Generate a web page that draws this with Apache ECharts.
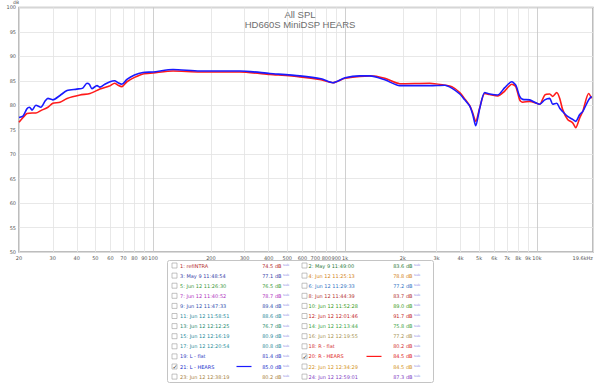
<!DOCTYPE html>
<html><head><meta charset="utf-8">
<script src="https://cdn.jsdelivr.net/npm/echarts@6/dist/echarts.min.js"></script>
<style>html,body{margin:0;padding:0;background:#fff}#c{width:600px;height:383px}</style>
</head><body><div id="c"></div>
<script>
const titleLines = ['All SPL', 'HD660S MiniDSP HEARS'];
const xTickValues = [20,30,40,50,60,70,80,90,100,200,300,400,500,600,700,800,900,1000,2000,3000,4000,5000,6000,7000,8000,9000,10000,19600];
const xTickLabels = ['20','30','40','50','60','70','80','90','100','200','300','400','500','600','700','800','900','1k','2k','3k','4k','5k','6k','7k','8k','9k','10k','19.6kHz'];
const yMin = 50, yMax = 100, yStep = 5;

const redFreq = [20,21,22,23.4,24.5,26,28.3,30,32.7,35.6,41.6,46.9,52.8,59.6,63,65.6,68.8,73,80,88.5,100,127,175,283,406,582,750,864,1000,1194,1346,1612,1930,2766,3310,3600,3963,4207,4468,4630,4800,5036,5347,5677,6250,6796,7394,7760,8132,8434,9170,9978,10350,10990,11660,12080,12680,13150,13620,14460,15360,15920,16710,17320,18600,19280];
const redDb   = [76.5,77.5,78.3,78.4,78.4,78.9,79.6,80.4,80.6,81.4,82.1,82.4,83.3,84.0,84.5,84.1,83.8,84.8,85.7,86.4,86.6,87.0,86.8,86.8,86.3,85.8,85.2,84.6,85.5,85.9,86.0,85.5,84.4,84.5,84.1,83.8,82.6,81.3,79.9,78.4,76.7,79.5,82.4,82.2,81.9,82.9,84.3,83.8,81.1,80.6,80.8,80.4,80.2,82.1,82.3,81.8,82.6,81.4,79.1,77.1,76.4,75.4,77.4,78.7,82.4,81.4];

const blueFreq = [20,21,22,22.7,23.4,24.5,26,27.3,28.3,30,32.7,35.6,40,43,45.2,46.5,48,51,52.8,56,59.6,63,65.6,68.8,73,80,88.5,100,127,175,283,406,582,750,864,1000,1194,1346,1612,1930,2766,3310,3600,3963,4207,4468,4630,4800,5036,5347,5677,6250,6796,7394,7760,8132,8434,9170,9978,10350,10990,11660,12080,12680,13150,13620,14460,15360,15920,16710,17320,18600,19280];
const blueDb   = [77.5,77.8,79.3,79.6,79.0,80.0,79.6,80.8,81.4,81.1,82.0,83.0,83.3,83.5,84.5,84.3,83.4,84.0,83.7,84.3,84.8,85.0,84.6,84.3,85.3,86.2,86.7,86.8,87.3,87.0,87.0,86.5,86.0,85.4,84.6,85.6,86.0,86.0,85.2,84.0,84.0,84.1,83.5,82.3,81.1,79.8,78.1,75.8,79.4,82.6,82.3,82.1,83.6,84.8,84.1,81.8,81.2,81.1,80.4,80.2,81.1,81.4,80.2,80.4,79.4,78.7,77.7,77.1,76.7,78.1,78.7,81.1,81.8];

const legendLeftNames  = ['1: refINTRA','3: May 9 11:48:54','5: Jun 12 11:26:30','7: Jun 12 11:40:52','9: Jun 12 11:47:33','11: Jun 12 11:58:51','13: Jun 12 12:12:25','15: Jun 12 12:16:19','17: Jun 12 12:20:54','19: L - flat','21: L - HEARS','23: Jun 12 12:38:19'];
const legendLeftValues = ['74.5 dB','77.1 dB','76.5 dB','78.7 dB','89.4 dB','88.6 dB','76.7 dB','80.9 dB','80.8 dB','81.4 dB','85.0 dB','80.2 dB'];
const legendLeftColors = ['#b42a2a','#3a44a8','#3c9a3c','#b034c0','#3452b0','#2a8c9c','#2a8c70','#2a8c9c','#30909c','#3444c4','#2233cc','#a88444'];
const legendRightNames  = ['2: May 9 11:49:00','4: Jun 12 11:25:13','6: Jun 12 11:29:33','8: Jun 12 11:44:39','10: Jun 12 11:52:28','12: Jun 12 12:01:46','14: Jun 12 12:13:44','16: Jun 12 12:19:55','18: R - flat','20: R - HEARS','22: Jun 12 12:34:29','24: Jun 12 12:59:01'];
const legendRightValues = ['83.6 dB','78.8 dB','77.2 dB','83.7 dB','89.0 dB','91.7 dB','75.8 dB','77.2 dB','80.2 dB','84.5 dB','84.5 dB','87.3 dB'];
const legendRightColors = ['#2a7c3c','#d48422','#3474c4','#b43434','#3c9c22','#c42424','#40a444','#a89454','#d43434','#e02424','#d49424','#8444c4'];
const checkedNames = ['21: L - HEARS', '20: R - HEARS'];
const lineColors = { '21: L - HEARS': '#1a1aff', '20: R - HEARS': '#ff1a1a' };

function zip(f, d) { return f.map((v, i) => [v, d[i]]); }

const FONT = 'DejaVu Sans';
const chart = echarts.init(document.getElementById('c'), null, { renderer: 'svg' });

// Legend table graphic
const legendChildren = [];
const LX = 167, LY = 260;
legendChildren.push({ type: 'rect', shape: { x: 0, y: 0, width: 266, height: 122, r: 2 }, style: { fill: '#fff', stroke: '#c4c4c4', lineWidth: 1 } });
function addCol(names, values, colors, cbX, txtX, valRight, lineX0) {
  names.forEach((n, i) => {
    const cy = 5 + i * 10.1;
    const checked = checkedNames.includes(n);
    legendChildren.push({ type: 'rect', shape: { x: cbX, y: cy - 2.5, width: 5, height: 5 }, style: { fill: '#fff', stroke: '#9a9a9a', lineWidth: 0.6 } });
    if (checked) legendChildren.push({ type: 'text', x: cbX + 0.4, y: cy, style: { text: '✓', fontSize: 6, fill: '#333', verticalAlign: 'middle', fontFamily: FONT } });
    legendChildren.push({ type: 'text', x: txtX, y: cy, style: { text: n, fontSize: 5, fill: colors[i], verticalAlign: 'middle', fontFamily: FONT } });
    legendChildren.push({ type: 'text', x: valRight, y: cy, style: { text: values[i], fontSize: 5, fill: colors[i], align: 'right', verticalAlign: 'middle', fontFamily: FONT } });
    legendChildren.push({ type: 'text', x: valRight + 1.5, y: cy - 0.6, style: { text: 'sub', fontSize: 3.4, fill: '#8c8ce6', verticalAlign: 'middle', fontFamily: FONT } });
    if (checked) legendChildren.push({ type: 'line', shape: { x1: lineX0, y1: cy, x2: lineX0 + 15, y2: cy }, style: { stroke: lineColors[n], lineWidth: 1.2 } });
  });
}
addCol(legendLeftNames, legendLeftValues, legendLeftColors, 4.5, 12.5, 114, 69);
addCol(legendRightNames, legendRightValues, legendRightColors, 134.5, 141, 245, 199);

const splitColors = ['#e2e2e2','#e2e2e2','#e2e2e2','#e2e2e2','#e2e2e2','#e2e2e2','#e2e2e2','#e2e2e2','#c4c4c4'];

chart.setOption({
  backgroundColor: '#fff',
  animation: false,
  title: {
    text: titleLines.join('\n'), left: 'center', top: 4,
    textStyle: { fontSize: 9.5, fontWeight: 'normal', color: '#6e6e6e', lineHeight: 10, fontFamily: 'Liberation Sans' }
  },
  grid: { left: 19, right: 7, top: 5, bottom: 131, show: true, borderColor: '#a8a8a8', borderWidth: 1.5, backgroundColor: 'transparent' },
  xAxis: {
    type: 'log', logBase: 10, min: 20, max: 19600,
    axisLine: { show: false },
    axisTick: { show: false, customValues: xTickValues },
    axisLabel: {
      customValues: xTickValues, fontSize: 5, color: '#555', margin: 3, fontFamily: FONT,
      formatter: (v) => { const i = xTickValues.findIndex(t => Math.abs(t - v) < 1e-6 * t); return i >= 0 ? xTickLabels[i] : ''; },
      showMinLabel: true, showMaxLabel: true, alignMaxLabel: 'right', hideOverlap: false
    },
    splitLine: { show: true, lineStyle: { color: splitColors, width: 0.8 } },
    minorSplitLine: { show: false }
  },
  yAxis: {
    type: 'value', min: yMin, max: yMax, interval: yStep,
    name: 'dB', nameLocation: 'end', nameGap: 1,
    nameTextStyle: { fontSize: 4.5, color: '#555', align: 'right', padding: [0, 0, -2, 0], fontFamily: FONT },
    axisLine: { show: false }, axisTick: { show: false },
    axisLabel: { fontSize: 5, color: '#555', margin: 3, fontFamily: FONT },
    splitLine: { show: true, lineStyle: { color: '#e2e2e2', width: 0.8 } }
  },
  series: [
    { name: '20: R - HEARS', type: 'line', data: zip(redFreq, redDb), showSymbol: false, smooth: 0.25, lineStyle: { color: '#ff1a1a', width: 1.6 }, z: 3 },
    { name: '21: L - HEARS', type: 'line', data: zip(blueFreq, blueDb), showSymbol: false, smooth: 0.25, lineStyle: { color: '#1a1aff', width: 1.6 }, z: 4 }
  ],
  graphic: [{ type: 'group', left: LX, top: LY, children: legendChildren }]
});
</script></body></html>
